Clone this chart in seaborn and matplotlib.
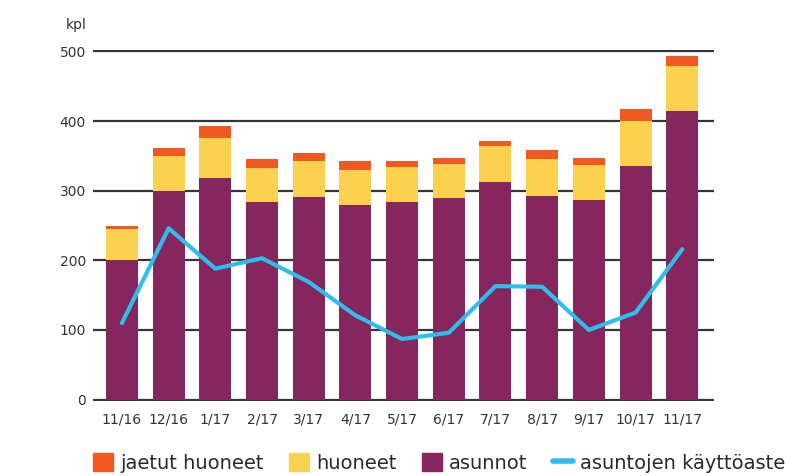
import numpy as np
import pandas as pd
import matplotlib
matplotlib.use('Agg')
import matplotlib.pyplot as plt
from matplotlib.patches import Patch
from matplotlib.lines import Line2D
import seaborn as sns

# data
months = ['11/16', '12/16', '1/17', '2/17', '3/17', '4/17', '5/17',
          '6/17', '7/17', '8/17', '9/17', '10/17', '11/17']
asunnot = [200, 300, 318, 284, 291, 279, 284, 289, 313, 293, 287, 335, 414]
huoneet = [45, 50, 58, 48, 51, 51, 50, 50, 51, 53, 50, 65, 65]
jaetut_huoneet = [5, 11, 17, 13, 12, 12, 8, 8, 7, 12, 10, 17, 15]
kayttoaste = [110, 246, 188, 203, 169, 121, 87, 96, 163, 162, 100, 125, 216]
y_ticks = [0, 100, 200, 300, 400, 500]

c_purple = '#86265f'
c_yellow = '#fdd150'
c_orange = '#f05a22'
c_blue = '#2fbdea'

sns.set_theme(style='white')
plt.rcParams['font.family'] = ['DejaVu Sans']

df = pd.DataFrame({'kk': months, 'asunnot': asunnot,
                   'huoneet': huoneet, 'jaetut': jaetut_huoneet})
df['mid'] = df['asunnot'] + df['huoneet']
df['top'] = df['mid'] + df['jaetut']

fig = plt.figure(figsize=(7.99, 4.76), dpi=100)
ax = fig.add_axes([93 / 799, 1 - 401 / 476, (714 - 93) / 799, (401 - 50) / 476])

# stacked bars: draw cumulative totals back to front
w = 0.685
sns.barplot(data=df, x='kk', y='top', color=c_orange, width=w, linewidth=0,
            saturation=1, ax=ax)
sns.barplot(data=df, x='kk', y='mid', color=c_yellow, width=w, linewidth=0,
            saturation=1, ax=ax)
sns.barplot(data=df, x='kk', y='asunnot', color=c_purple, width=w, linewidth=0,
            saturation=1, ax=ax)
sns.lineplot(x=np.arange(len(months)), y=kayttoaste, color=c_blue, lw=3,
             ax=ax, zorder=5)

ax.set_xlim(-0.62, len(months) - 1 + 0.68)
ax.set_ylim(-2, 502)
ax.set_yticks(y_ticks)
ax.set_xlabel('')
ax.set_ylabel('')
ax.set_axisbelow(True)
ax.grid(axis='y', color='#363636', lw=1.6)
ax.grid(axis='x', visible=False)
for s in ax.spines.values():
    s.set_visible(False)
ax.tick_params(axis='y', length=0, pad=5, labelsize=10, labelcolor='#333333')
ax.tick_params(axis='x', length=0, pad=8, labelsize=10, labelcolor='#333333')

fig.text(87 / 799, 1 - 25 / 476, 'kpl', ha='right', va='center',
         fontsize=10, color='#333333')

handles = [Patch(color=c_orange), Patch(color=c_yellow), Patch(color=c_purple),
           Line2D([], [], color=c_blue, lw=4)]
labels = ['jaetut huoneet', 'huoneet', 'asunnot', 'asuntojen käyttöaste']
fig.legend(handles, labels, loc='center left', bbox_to_anchor=(93 / 799, 1 - 463 / 476),
           ncol=4, frameon=False, fontsize=14, handlelength=1.05, handleheight=1.05,
           handletextpad=0.35, columnspacing=1.3, borderpad=0, borderaxespad=0,
           labelcolor='#2a2a2a')

fig.savefig('out.png', dpi=100)
